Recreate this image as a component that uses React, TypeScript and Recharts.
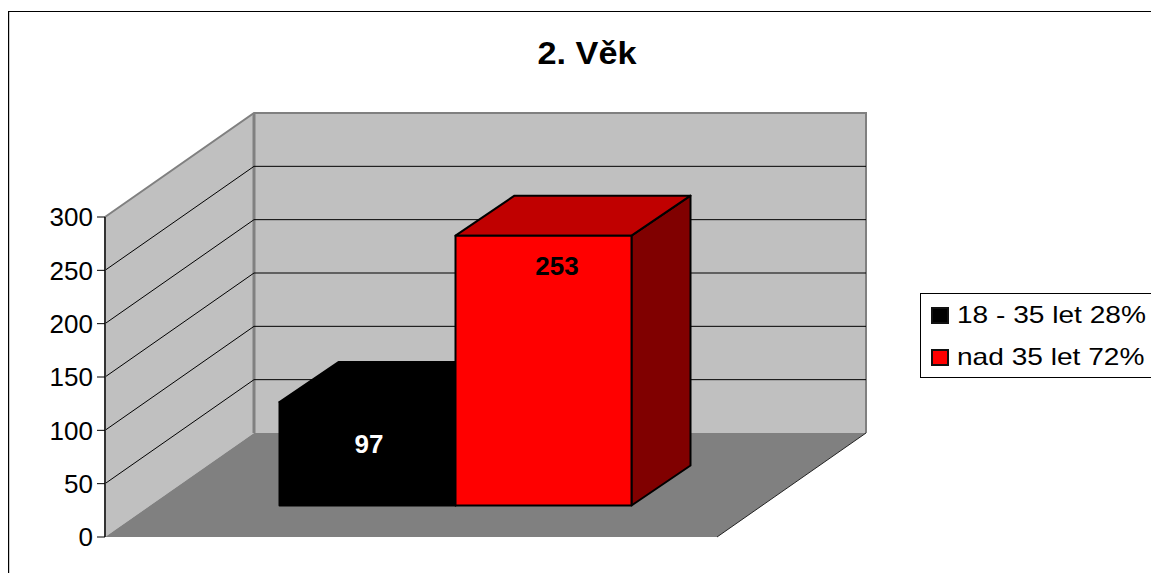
import { BarChart, Bar, XAxis, YAxis, CartesianGrid, ReferenceArea, Legend, LabelList, Customized } from "recharts";

const categories = [""];
const youngValues = [97];
const olderValues = [253];
const seriesNames = ["18 - 35 let 28%", "nad 35 let 72%"];
const yTicks = [0, 50, 100, 150, 200, 250, 300];
const chartTitle = "2. Věk";

const data = categories.map((name, i) => ({ name, young: youngValues[i], older: olderValues[i] }));

const FONT = '"Liberation Sans", Arial, sans-serif';
// depth of the fake 3D room and of the bars
const ROOM_DX = 149;
const ROOM_DY = 104;
const BAR_DX = 59;
const BAR_DY = 40;
const BAR_SHIFT_X = 44.5;
const BAR_SHIFT_Y = 31.5;

const pts = (list: number[][]) => list.map((p) => p.join(",")).join(" ");

function Room({ x, y, width, height }: any) {
  const bottom = y + height;
  const right = x + width;
  const backX = x + ROOM_DX;
  const backTop = y - ROOM_DY;
  const backBottom = bottom - ROOM_DY;
  return (
    <g>
      <polygon points={pts([[backX, backTop], [right + ROOM_DX, backTop], [right + ROOM_DX, backBottom], [backX, backBottom]])} fill="#c0c0c0" />
      <polygon points={pts([[x, y], [backX, backTop], [backX, backBottom], [x, bottom]])} fill="#c0c0c0" />
      <polygon points={pts([[x, bottom], [backX, backBottom], [right + ROOM_DX, backBottom], [right, bottom]])} fill="#808080" />
      <polyline points={pts([[x, y], [backX, backTop], [right + ROOM_DX, backTop], [right + ROOM_DX, backBottom]])} fill="none" stroke="#808080" strokeWidth={2} />
      <line x1={backX} y1={backTop} x2={backX} y2={backBottom} stroke="#808080" strokeWidth={3} />
      <line x1={right} y1={bottom} x2={right + ROOM_DX} y2={backBottom} stroke="#222" strokeWidth={1} />
    </g>
  );
}

function GridLine({ x1, x2, y1, index }: any) {
  // the outer ticks sit on the room's own edges
  if (index === 0 || y1 < 220 || y1 > 530) return <g key={index} />;
  return (
    <polyline
      key={index}
      points={pts([[x1, y1], [x1 + ROOM_DX, y1 - ROOM_DY], [x2 + ROOM_DX, y1 - ROOM_DY]])}
      fill="none"
      stroke="#000"
      strokeWidth={1}
    />
  );
}

function makeBox(topFill: string, sideFill: string) {
  return function Box({ x, y, width, height, fill }: any) {
    const l = x + BAR_SHIFT_X;
    const r = l + width;
    const t = y - BAR_SHIFT_Y;
    const b = t + height;
    return (
      <g stroke="#000" strokeWidth={2} strokeLinejoin="round">
        <polygon points={pts([[r, t], [r + BAR_DX, t - BAR_DY], [r + BAR_DX, b - BAR_DY], [r, b]])} fill={sideFill} />
        <polygon points={pts([[l, t], [l + BAR_DX, t - BAR_DY], [r + BAR_DX, t - BAR_DY], [r, t]])} fill={topFill} />
        <rect x={l} y={t} width={width} height={height} fill={fill} />
      </g>
    );
  };
}

function makeValueLabel(color: string, dx: number, dy: number) {
  return function ValueLabel({ x, y, width, value }: any) {
    return (
      <text x={x + width / 2 + dx} y={y + dy} fill={color} textAnchor="middle" dominantBaseline="central" fontFamily={FONT} fontSize={26} fontWeight="bold">
        {value}
      </text>
    );
  };
}

function LegendBox({ payload }: any) {
  return (
    <div style={{ boxSizing: "border-box", width: 240, height: 85, border: "1px solid #000", background: "#fff", fontFamily: FONT, fontSize: 24, color: "#000" }}>
      {(payload || []).map((item: any) => (
        <div key={item.value} style={{ display: "flex", alignItems: "center", height: 42, paddingLeft: 10, whiteSpace: "nowrap" }}>
          <span style={{ boxSizing: "border-box", width: 18, height: 17, marginRight: 8, background: item.color, border: "2px solid #111" }} />
          <span style={{ display: "inline-block", transform: "scaleX(1.17)", transformOrigin: "left center" }}>{item.value}</span>
        </div>
      ))}
    </div>
  );
}

export default function App() {
  return (
    <div style={{ position: "absolute", left: 0, top: 0, width: 1151, height: 573, overflow: "hidden", background: "#fff" }}>
      <div style={{ position: "absolute", left: 8, top: 11, width: 1300, height: 700, border: "1px solid #000", boxSizing: "border-box", boxShadow: "inset 1px 0 #ccc" }} />
      <BarChart
        width={1151}
        height={573}
        data={data}
        barSize={176}
        barGap={0}
        barCategoryGap={0}
        margin={{ top: 217, right: 194, bottom: 36, left: 45 }}
        style={{ position: "absolute", left: 0, top: 0 }}
      >
        <ReferenceArea y1={0} y2={300} ifOverflow="visible" shape={Room} {...({ zIndex: -200 } as any)} />
        <CartesianGrid vertical={false} horizontal={GridLine as any} />
        <XAxis dataKey="name" height={0} tick={false} tickLine={false} axisLine={{ stroke: "#000", strokeWidth: 1.5 }} />
        <YAxis
          width={60}
          domain={[0, 300]}
          ticks={yTicks}
          interval={0}
          tickSize={8}
          tickMargin={4}
          axisLine={{ stroke: "#333", strokeWidth: 2 }}
          tickLine={{ stroke: "#000" }}
          tick={{ fill: "#000", fontFamily: FONT, fontSize: 26 }}
        />
        <Legend
          layout="vertical"
          align="right"
          verticalAlign="middle"
          content={LegendBox as any}
          wrapperStyle={{ left: 920, top: 293, right: "auto", bottom: "auto", width: 240 }}
        />
        <Bar dataKey="young" name={seriesNames[0]} fill="#000" shape={makeBox("#000", "#000")} isAnimationActive={false}>
          <LabelList dataKey="young" content={makeValueLabel("#fff", 46, 10) as any} />
        </Bar>
        <Bar dataKey="older" name={seriesNames[1]} fill="#ff0000" shape={makeBox("#c00000", "#800000")} isAnimationActive={false}>
          <LabelList dataKey="older" content={makeValueLabel("#000", 58, -1) as any} />
        </Bar>
        <Customized
          component={() => (
            <text x={587} y={64} textAnchor="middle" fontFamily={FONT} fontSize={31} fontWeight="bold" fill="#000" textLength={99} lengthAdjust="spacingAndGlyphs">
              {chartTitle}
            </text>
          )}
        />
      </BarChart>
    </div>
  );
}
